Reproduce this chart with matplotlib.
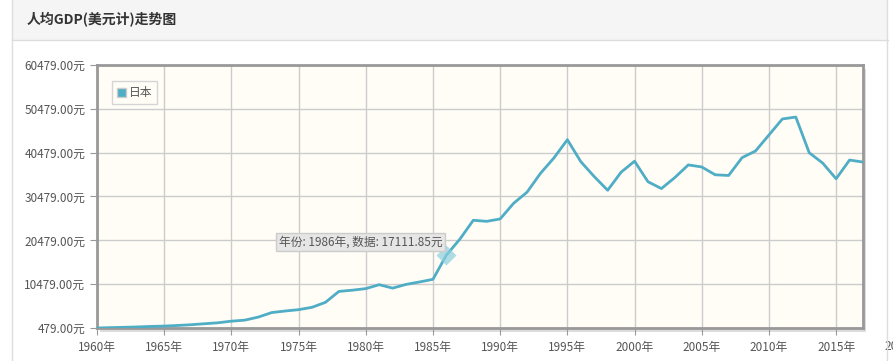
import matplotlib.pyplot as plt
from matplotlib.patches import Rectangle
from matplotlib.lines import Line2D

plt.rcParams["font.family"] = ["Noto Sans CJK SC", "DejaVu Sans"]

years = list(range(1960, 2018))
gdp_per_capita = [
    479, 563, 634, 718, 836, 919, 1058, 1228, 1450, 1669,
    2037, 2272, 2967, 3997, 4354, 4659, 5198, 6335, 8821, 9105,
    9463, 10361, 9578, 10425, 10984, 11585, 17112, 20745, 25052, 24813,
    25359, 28925, 31465, 35766, 39269, 43440, 38437, 35022, 31903, 36027,
    38532, 33846, 32289, 34808, 37689, 37218, 35434, 35275, 39339, 40855,
    44508, 48168, 48603, 40454, 38109, 34524, 38794, 38332,
]
country = "日本"
title = "人均GDP(美元计)走势图"
y_ticks = [479, 10479, 20479, 30479, 40479, 50479, 60479]
x_ticks = list(range(1960, 2021, 5))
hover_year = 1986
hover_value = 17111.85

line_color = "#4fadc5"
text_color = "#555555"

fig = plt.figure(figsize=(8.93, 3.61), dpi=100)
W, H = 893, 361


def fx(px):
    return px / W


def fy(py):
    return 1 - py / H


# outer panel with header band
fig.patches.append(Rectangle((fx(12), fy(40)), fx(876), 40 / H, transform=fig.transFigure,
                             facecolor="#f5f5f5", edgecolor="none", zorder=-2))
fig.add_artist(Line2D([fx(12), fx(888)], [fy(40), fy(40)], color="#dddddd", lw=1))
fig.add_artist(Line2D([fx(12), fx(12)], [0, 1], color="#dddddd", lw=1))
fig.add_artist(Line2D([fx(887), fx(887)], [0, 1], color="#dddddd", lw=1))
fig.text(fx(27), fy(20), title, fontsize=10, color="#333333", va="center", ha="left",
         fontweight="bold")

left, right, top, bottom = 97, 863, 65, 328
# frame shadow
fig.patches.append(Rectangle((fx(left + 3), fy(bottom + 4)), fx(right - left), (bottom - top) / H,
                             transform=fig.transFigure, facecolor="#dcdcdc",
                             edgecolor="none", zorder=-1))
ax = fig.add_axes([fx(left), fy(bottom), fx(right - left), (bottom - top) / H])
ax.set_facecolor("#fffdf6")

ax.plot(years, gdp_per_capita, color=line_color, lw=2, zorder=3, label=country)
ax.plot([hover_year], [hover_value], marker="D", ms=10, color="#8ccfdf", alpha=0.7,
        mec="none", zorder=4)
ax.text(1985.7, 20100, f"年份: {hover_year}年, 数据: {hover_value:.2f}元", ha="right",
        va="center", fontsize=8.5, color="#555555", zorder=5,
        bbox=dict(boxstyle="square,pad=0.2", facecolor="#e6e6e6", edgecolor="#cccccc", lw=1))

ax.set_xticks(x_ticks[:-1])
ax.set_xticklabels([f"{y}年" for y in x_ticks[:-1]])
ax.set_yticks(y_ticks)
ax.set_yticklabels([f"{v:.2f}元" for v in y_ticks])
ax.set_xlim(1960, 2017)
ax.set_ylim(479, 60479)
ax.text(x_ticks[-1], -0.045, f"{x_ticks[-1]}年", transform=ax.get_xaxis_transform(),
        ha="center", va="top", fontsize=8.5, color=text_color, clip_on=False)
ax.tick_params(axis="both", direction="out", length=5, color="#999999",
               labelsize=8.5, labelcolor=text_color)
ax.tick_params(axis="x", pad=4)
ax.grid(True, color="#cccccc", lw=1)
ax.set_axisbelow(True)
for s in ax.spines.values():
    s.set_color("#999999")
    s.set_linewidth(2)

leg = ax.legend(loc="upper left", bbox_to_anchor=(0.012, 0.96), fontsize=8.5,
                handlelength=0.8, handleheight=0.8, handletextpad=0.2,
                borderpad=0.4, fancybox=False, frameon=True,
                handles=[Rectangle((0, 0), 1, 1, facecolor=line_color, edgecolor="#cccccc")],
                labels=[country], labelcolor=text_color)
leg.get_frame().set_edgecolor("#cccccc")
leg.get_frame().set_facecolor("#fffdf6")

fig.savefig("out.png", dpi=100)
